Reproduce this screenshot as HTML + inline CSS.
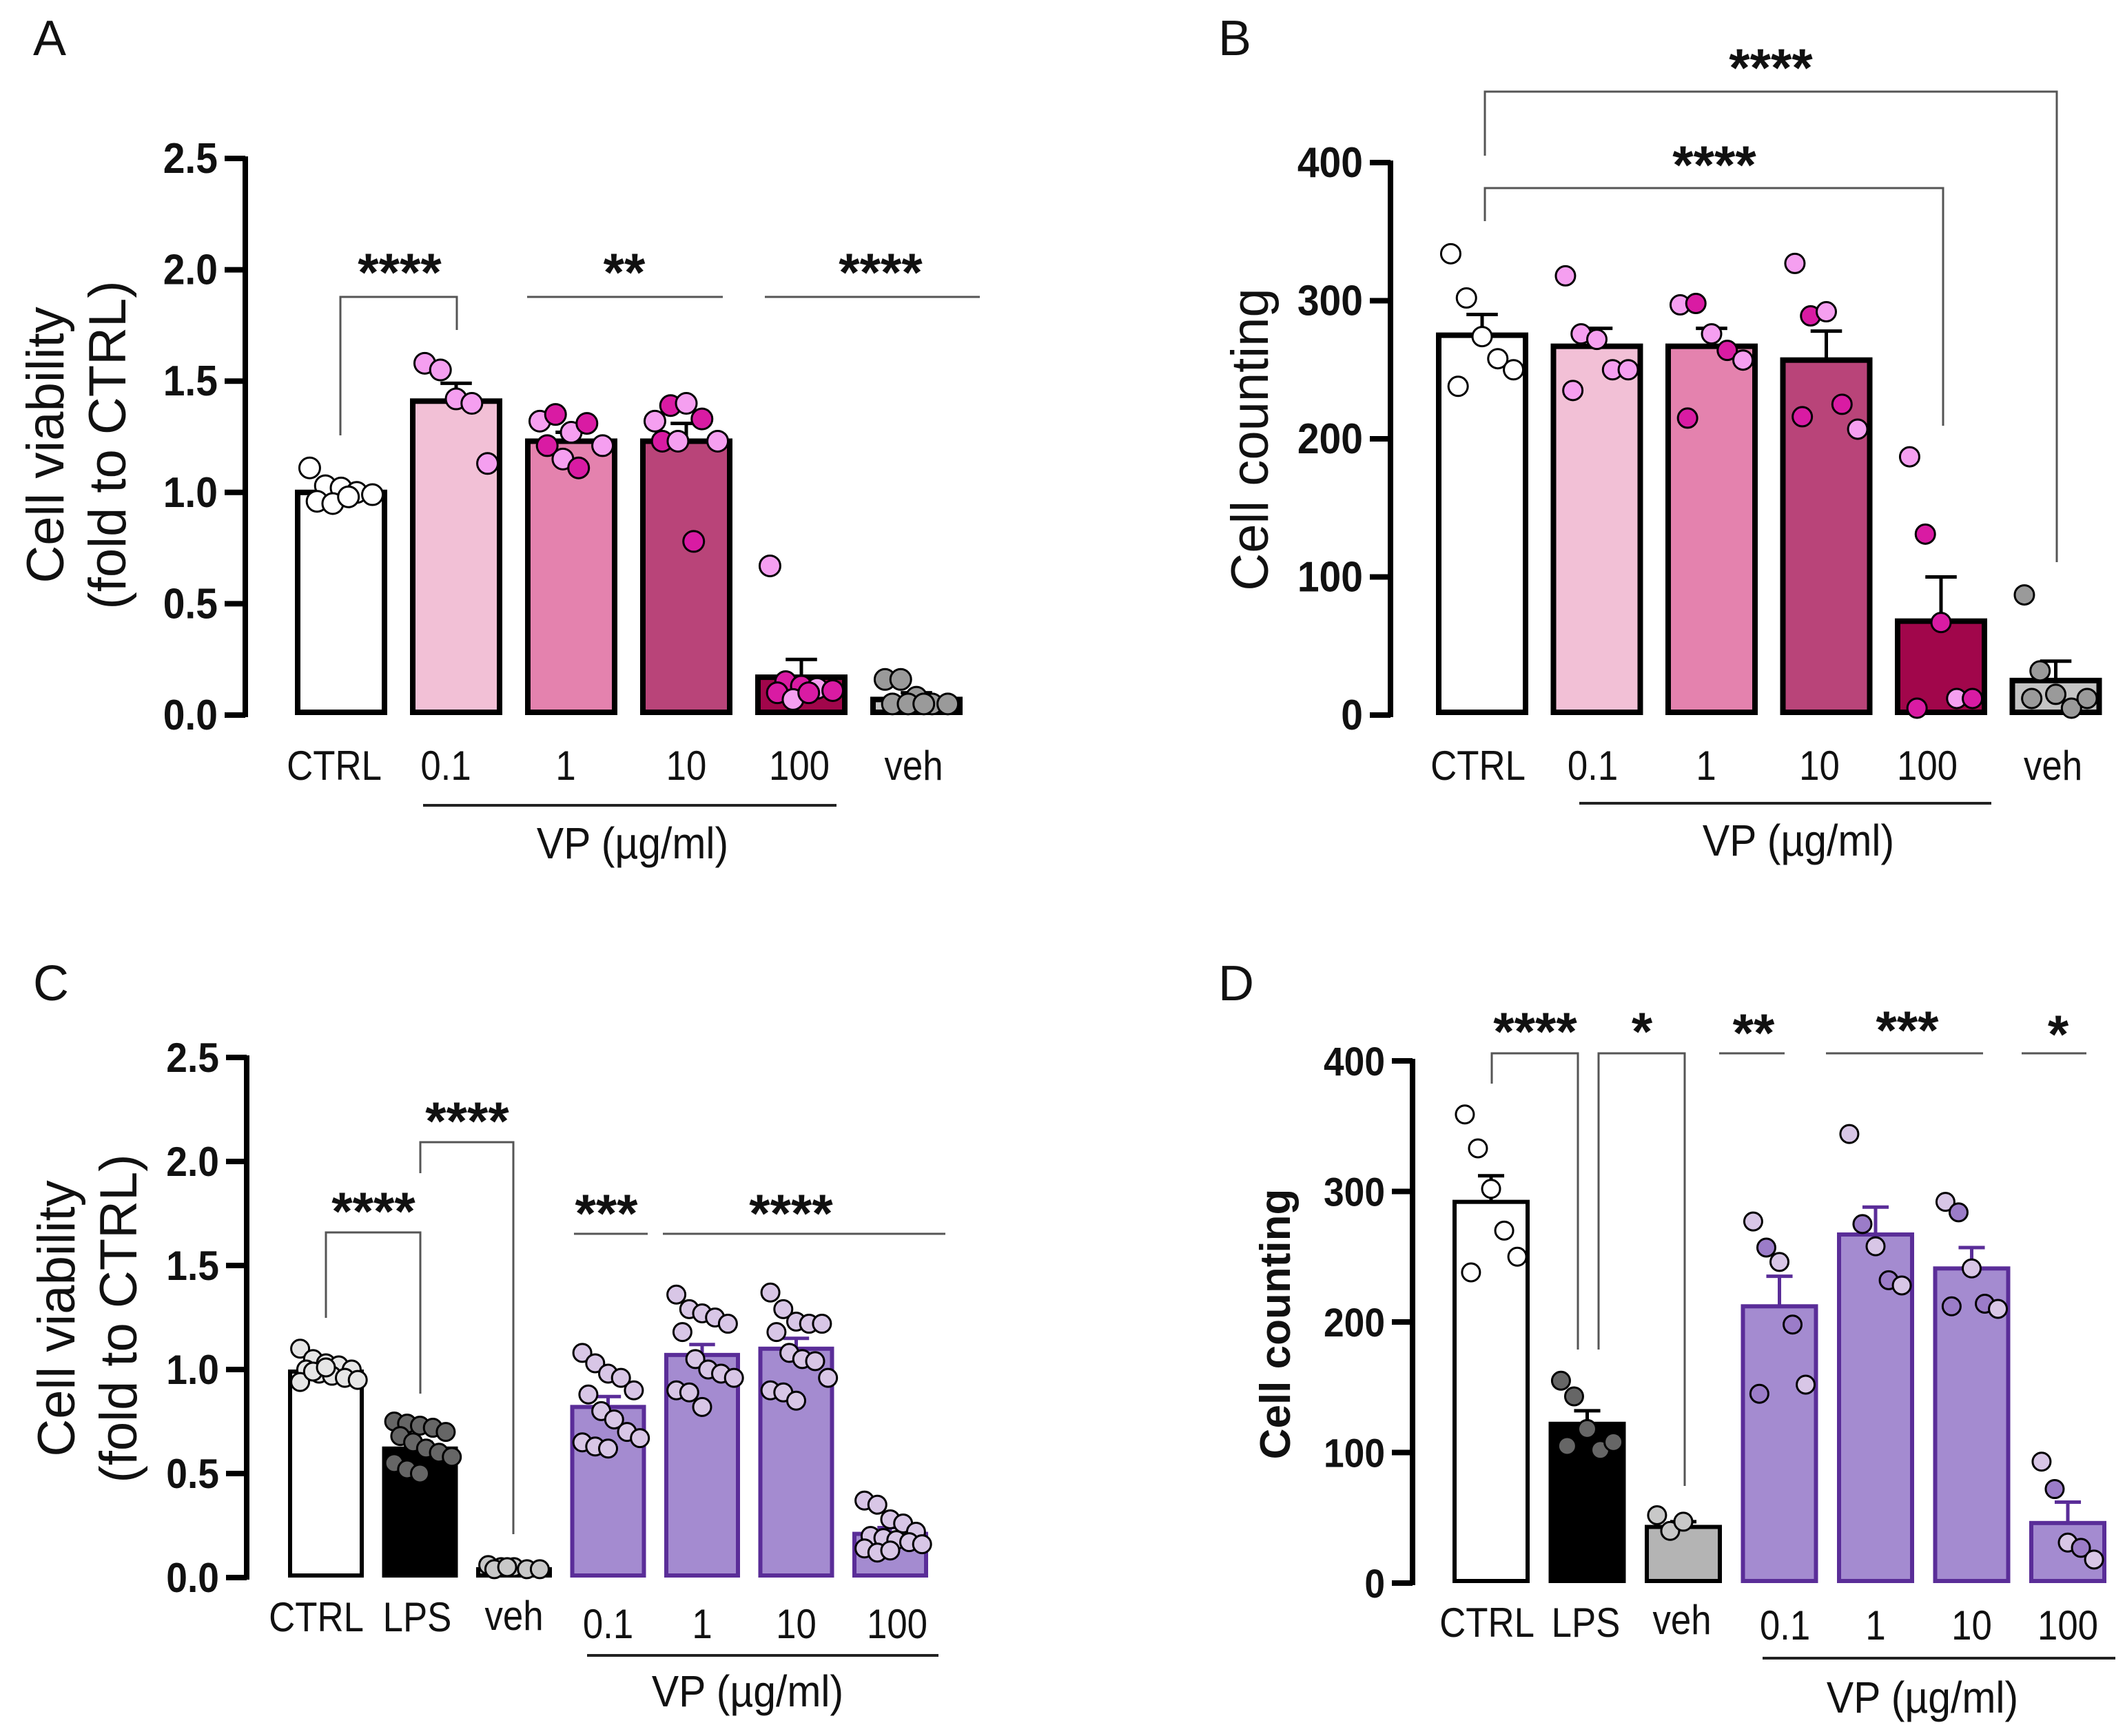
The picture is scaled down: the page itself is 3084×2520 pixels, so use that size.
<!DOCTYPE html>
<html><head><meta charset="utf-8">
<style>
html,body{margin:0;padding:0;background:#fff;}
svg{display:block;}
text{font-family:"Liberation Sans",Arial,sans-serif;}
</style></head>
<body>
<svg id="fig" xmlns="http://www.w3.org/2000/svg" width="3084" height="2520" viewBox="0 0 3084 2520">
<rect width="3084" height="2520" fill="#fff"/>
</svg>
<script>
// ---------- Panel A data ----------
const aCats = ["CTRL","0.1","1","10","100","veh"];
const aMeans = [1.0,1.41,1.23,1.23,0.17,0.07];
const aErr = [1.02,1.49,1.27,1.31,0.25,0.10];
const aTicks = ["0.0","0.5","1.0","1.5","2.0","2.5"];
const aPts0 = [1.11,1.03,1.02,1.00,0.99,0.96,0.95,0.98];
const aPts1 = [1.58,1.55,1.42,1.40,1.13];
const aPts2 = [1.32,1.35,1.27,1.31,1.21,1.21,1.15,1.11];
const aPts3 = [1.32,1.39,1.40,1.33,1.23,1.23,1.23,0.78];
const aPts4 = [0.67,0.15,0.13,0.12,0.11,0.10,0.07,0.10];
const aPts5 = [0.16,0.16,0.08,0.05,0.05,0.05,0.05,0.05];
// ---------- Panel B data ----------
const bCats = ["CTRL","0.1","1","10","100","veh"];
const bMeans = [275,267,267,257,68,25];
const bErr = [290,280,280,278,100,39];
const bTicks = ["0","100","200","300","400"];
const bPts0 = [334,302,274,258,250,238];
const bPts1 = [318,276,272,250,250,235];
const bPts2 = [297,298,276,264,257,215];
const bPts3 = [327,289,292,225,207,216];
const bPts4 = [187,131,67,12,12,5];
const bPts5 = [87,32,15,5,12,12];
// ---------- Panel C data ----------
const cCats = ["CTRL","LPS","veh","0.1","1","10","100"];
const cMeans = [0.99,0.62,0.04,0.82,1.07,1.10,0.21];
const cErr = [1.01,0.65,0.05,0.87,1.12,1.15,0.24];
const cTicks = ["0.0","0.5","1.0","1.5","2.0","2.5"];
const cPts0 = [1.10,1.05,1.03,1.02,1.00,1.00,0.98,0.97,0.96,0.95,0.94,0.99,1.01];
const cPts1 = [0.75,0.74,0.73,0.72,0.70,0.68,0.65,0.62,0.60,0.58,0.55,0.52,0.50];
const cPts2 = [0.06,0.05,0.05,0.04,0.04,0.04,0.05];
const cPts3 = [1.08,1.03,0.98,0.96,0.90,0.88,0.80,0.76,0.70,0.67,0.65,0.63,0.62];
const cPts4 = [1.36,1.29,1.27,1.25,1.22,1.18,1.05,1.00,0.98,0.96,0.90,0.89,0.82];
const cPts5 = [1.37,1.29,1.23,1.22,1.22,1.18,1.08,1.05,1.04,0.96,0.90,0.89,0.85];
const cPts6 = [0.37,0.35,0.28,0.26,0.22,0.20,0.19,0.18,0.17,0.16,0.14,0.12,0.13];
// ---------- Panel D data ----------
const dCats = ["CTRL","LPS","veh","0.1","1","10","100"];
const dMeans = [292,122,43,212,267,241,46];
const dErr = [312,132,47,235,288,257,62];
const dTicks = ["0","100","200","300","400"];
const dPts0 = [359,333,302,270,250,238];
const dPts1 = [155,143,118,102,108,105];
const dPts2 = [52,40,47];
const dPts3 = [277,257,246,198,152,145];
const dPts4 = [344,275,258,232,228];
const dPts5 = [292,284,241,214,210,212];
const dPts6 = [93,72,31,27,18];

const NS = "http://www.w3.org/2000/svg";
const svg = document.getElementById("fig");
function mk(tag, attrs, parent){
  const e = document.createElementNS(NS, tag);
  for (const k in attrs) e.setAttribute(k, attrs[k]);
  (parent||svg).appendChild(e);
  return e;
}
function txt(parent, s, x, y, size, weight, anchor, rot, sx){
  const t = mk("text", {x:0, y:0, "font-size":size, "font-weight":weight||"normal", "text-anchor":anchor||"middle", fill:"#111"}, parent);
  let tr = "translate("+x+" "+y+")";
  if (rot) tr += " rotate(-90)";
  if (sx) tr += " scale("+sx+" 1)";
  t.setAttribute("transform", tr);
  t.textContent = s;
  return t;
}

function panel(cfg){
  const g = mk("g", {});
  
  
  const Y = v => cfg.y0 - (v - 0) / cfg.vmax * (cfg.y0 - cfg.ytop);
  const X = i => cfg.x0 + i * cfg.pitch;
  const ax = mk("g", {}, g);
  
  
  mk("line", {x1:cfg.axX, y1:cfg.ytop-3, x2:cfg.axX, y2:cfg.y0+3, stroke:"#000","stroke-width":8}, ax);
  cfg.ticks.forEach((lab, i) => {
    const v = cfg.vmax * i / (cfg.ticks.length - 1);
    const y = Y(v);
    mk("line", {x1:cfg.axX-30, y1:y, x2:cfg.axX, y2:y, stroke:"#000","stroke-width":8}, ax);
    const t = txt(ax, lab, cfg.axX-40, y+21, cfg.tickSize, "bold", "end", false, 0.92);
    
    
  });
  cfg.means.forEach((m, i) => {
    const x = X(i), w = cfg.bw;
    const bg = mk("g", {}, g);
    
    
    const sw = cfg.barStroke[i];
    const ye = Y(cfg.err[i]);
    mk("line", {x1:x+w/2, y1:ye, x2:x+w/2, y2:Y(m), stroke:sw, "stroke-width":5}, bg);
    mk("line", {x1:x+w/2-w*0.17, y1:ye, x2:x+w/2+w*0.17, y2:ye, stroke:sw, "stroke-width":5}, bg);
    const h = Math.max(cfg.y0 - Y(m), 0);
    mk("rect", {x:x+cfg.sw/2, y:Y(m), width:w-cfg.sw, height:h-cfg.sw/2, fill:cfg.fill[i], stroke:sw, "stroke-width":cfg.sw}, bg);
    const pts = cfg.pts[i];
    pts.forEach((v, j) => {
      const col = j % 5;
      const dx = (col - 2) * w * 0.17 + ((Math.floor(j/5)%2) ? w*0.08 : 0);
      const c = mk("circle", {cx:x+w/2+dx, cy:Y(v), r:cfg.r, fill:cfg.ptFill[i][j%cfg.ptFill[i].length], stroke:"#000","stroke-width":3}, bg);
      
      
    });
    const lab = txt(g, cfg.cats[i], x+w/2 + (cfg.labDx ? cfg.labDx[i] : 0), cfg.labY[i], 60, "normal", "middle", false, 0.88);
    
    
  });
  return g;
}
function sig(g, x1, x2, y, l1, l2, stars, sx, sy){
  const s = mk("g", {}, g);
  
  
  let d = "M"+x1+" "+(l1!=null?l1:y)+" L"+x1+" "+y+" L"+x2+" "+y+" L"+x2+" "+(l2!=null?l2:y);
  mk("path", {d:d, fill:"none", stroke:"#555", "stroke-width":3}, s);
  const t = txt(s, stars, sx!=null?sx:(x1+x2)/2, sy+36, 78, "bold", "middle");
  
  
}
function vp(g, x1, x2, y, ly, lx){
  mk("line", {x1:x1, y1:y, x2:x2, y2:y, stroke:"#222", "stroke-width":4}, g);
  const t = txt(g, "VP (µg/ml)", lx, ly+22, 64, "normal", "middle", false, 0.92);
  
  
}

const light = "#f59ff0", dark = "#d91ba3";
const lav = "#d8c6e6";
const gA = panel({name:"panel-a", y0:1038, ytop:230, vmax:2.5, axX:356, x0:428, pitch:167, bw:134, sw:8,
  ticks:aTicks, tickSize:62, means:aMeans, err:aErr, cats:aCats,
  fill:["#ffffff","#f2c0d6","#e482ae","#b94479","#a1064b","#c4c4c4"],
  barStroke:["#000","#000","#000","#000","#000","#000"],
  pts:[aPts0,aPts1,aPts2,aPts3,aPts4,aPts5],
  ptFill:[["#fff"],[light],[light,dark],[light,dark],[light,dark,dark],["#9a9a9a"]],
  r:15, labY:[1132,1132,1132,1132,1132,1132], labDx:[-10,-15,-8,0,-3,-4]});
sig(gA, 494, 663, 431, 632, 479, "****", 580, 386);
sig(gA, 765, 1049, 431, null, null, "**", 906, 386);
sig(gA, 1110, 1422, 431, null, null, "****", 1278, 386);
vp(gA, 614, 1214, 1169, 1224, 918);
txt(gA, "Cell viability", 92, 646, 76, "normal", "middle", true);
txt(gA, "(fold to CTRL)", 182, 646, 76, "normal", "middle", true);
txt(gA, "A", 72, 80, 72, "normal", "middle");

const gB = panel({name:"panel-b", y0:1038, ytop:236, vmax:400, axX:2018, x0:2084, pitch:166.5, bw:134, sw:8,
  ticks:bTicks, tickSize:62, means:bMeans, err:bErr, cats:bCats,
  fill:["#ffffff","#f2c0d6","#e482ae","#b94479","#a1064b","#c4c4c4"],
  barStroke:["#000","#000","#000","#000","#000","#000"],
  pts:[bPts0,bPts1,bPts2,bPts3,bPts4,bPts5],
  ptFill:[["#fff"],[light],[light,dark],[light,dark],[light,dark,dark],["#9a9a9a"]],
  r:14, labY:[1132,1132,1132,1132,1132,1132], labDx:[-6,-6,-8,-10,-20,-4]});
sig(gB, 2155, 2985, 133, 226, 816, "****", 2570, 89);
sig(gB, 2155, 2820, 273, 321, 618, "****", 2488, 230);
vp(gB, 2292, 2890, 1166, 1220, 2610);
txt(gB, "Cell counting", 1840, 638, 76, "normal", "middle", true);
txt(gB, "B", 1792, 80, 72, "normal", "middle");

const purp = "#a48bd0", purpS = "#5a2d98";
const gC = panel({name:"panel-c", y0:2290, ytop:1535, vmax:2.5, axX:358, x0:418, pitch:136.5, bw:110, sw:6,
  ticks:cTicks, tickSize:60, means:cMeans, err:cErr, cats:cCats,
  fill:["#ffffff","#000000","#c4c4c4",purp,purp,purp,purp],
  barStroke:["#000","#000","#000",purpS,purpS,purpS,purpS],
  pts:[cPts0,cPts1,cPts2,cPts3,cPts4,cPts5,cPts6],
  ptFill:[["#e6e6e6"],["#666"],["#c8c8c8"],[lav],[lav],[lav],[lav]],
  r:13, labY:[2368,2368,2366,2378,2378,2378,2378], labDx:[-14,-4,0,0,0,0,10]});
sig(gC, 473, 610, 1789, 1913, 2023, "****", 542, 1749);
sig(gC, 610, 745, 1658, 1703, 2227, "****", 678, 1618);
sig(gC, 833, 940, 1791, null, null, "***", 880, 1752);
sig(gC, 962, 1372, 1791, null, null, "****", 1148, 1752);
vp(gC, 852, 1362, 2403, 2455, 1085);
txt(gC, "Cell viability", 108, 1914, 76, "normal", "middle", true);
txt(gC, "(fold to CTRL)", 198, 1914, 76, "normal", "middle", true);
txt(gC, "C", 74, 1452, 72, "normal", "middle");

const gD = panel({name:"panel-d", y0:2298, ytop:1540, vmax:400, axX:2050, x0:2108, pitch:139.5, bw:112, sw:6,
  ticks:dTicks, tickSize:58, means:dMeans, err:dErr, cats:dCats,
  fill:["#ffffff","#000000","#b4b4b4",purp,purp,purp,purp],
  barStroke:["#000","#000","#000",purpS,purpS,purpS,purpS],
  pts:[dPts0,dPts1,dPts2,dPts3,dPts4,dPts5,dPts6],
  ptFill:[["#fff"],["#666"],["#c8c8c8"],[lav,"#9b7cc8"],[lav,"#9b7cc8"],[lav,"#9b7cc8"],[lav,"#9b7cc8"]],
  r:13, labY:[2376,2376,2372,2380,2380,2380,2380], labDx:[-6,-2,-2,8,0,0,0]});
sig(gD, 2165, 2290, 1529, 1573, 1959, "****", 2228, 1488);
sig(gD, 2320, 2445, 1529, 1959, 2157, "*", 2383, 1488);
sig(gD, 2495, 2590, 1529, null, null, "**", 2545, 1490);
sig(gD, 2650, 2878, 1529, null, null, "***", 2768, 1486);
sig(gD, 2934, 3028, 1529, null, null, "*", 2987, 1492);
vp(gD, 2558, 3070, 2407, 2464, 2790);
txt(gD, "Cell counting", 1872, 1922, 62, "bold", "middle", true);
txt(gD, "D", 1794, 1452, 72, "normal", "middle");
</script>
</body></html>
